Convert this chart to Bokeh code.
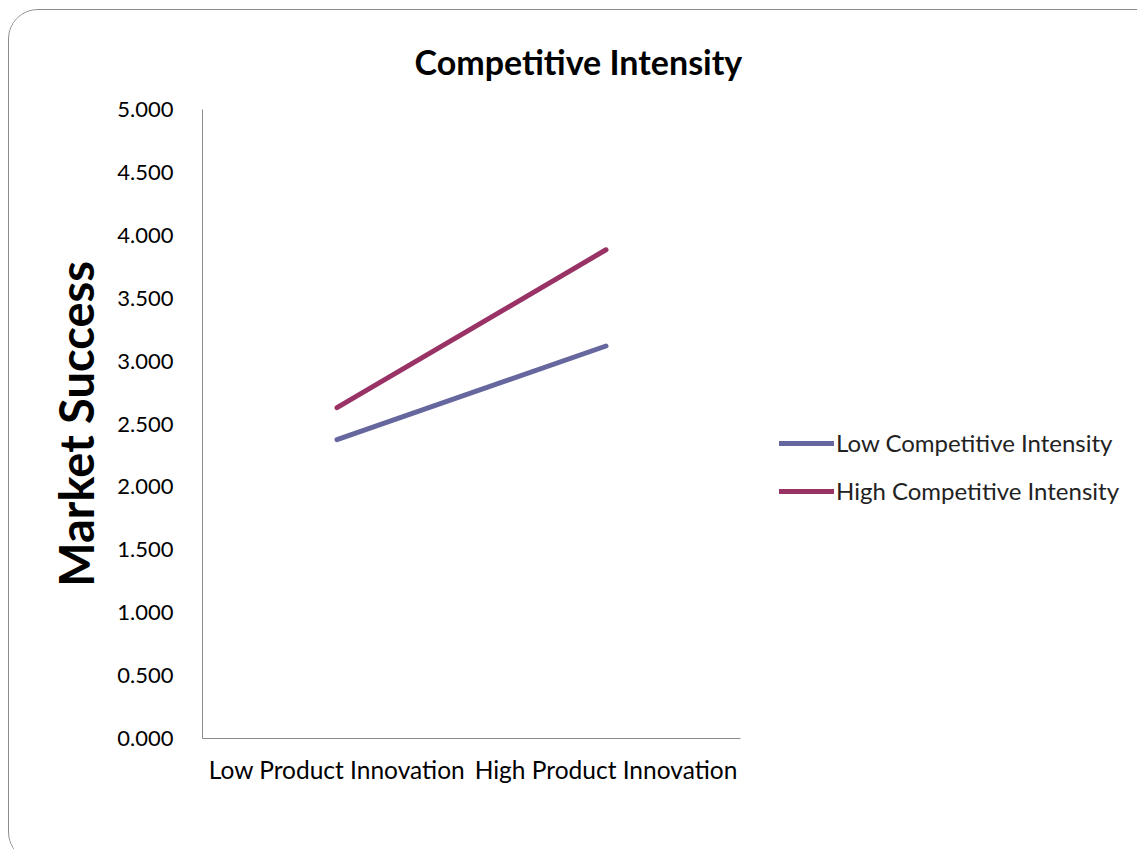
from bokeh.plotting import figure
from bokeh.models import Legend, LegendItem, NumeralTickFormatter, FixedTicker, Range1d, FactorRange
from bokeh.embed import file_html
from bokeh.resources import INLINE

categories = ["Low Product Innovation", "High Product Innovation"]
low_ci = [2.375, 3.12]
high_ci = [2.63, 3.885]
series_names = ["Low Competitive Intensity", "High Competitive Intensity"]
y_ticks = [0.0, 0.5, 1.0, 1.5, 2.0, 2.5, 3.0, 3.5, 4.0, 4.5, 5.0]

FONT = "Lato"
LOW_COLOR = "#67679F"
HIGH_COLOR = "#993366"
AXIS_COLOR = "#8C8C8C"

p = figure(
    x_range=FactorRange(*categories, range_padding=0),
    y_range=Range1d(0, 5),
    frame_width=538, frame_height=629,
    output_backend="svg", toolbar_location=None,
    min_border_left=193, min_border_top=99, min_border_bottom=123, min_border_right=421,
    title="Competitive Intensity",
)
p.styles = {"position": "absolute", "left": "8px", "top": "9px",
            "border": "1px solid #8C8C8C", "border-radius": "30px", "overflow": "hidden"}
p.outline_line_color = None
p.grid.visible = False
p.background_fill_color = "white"
p.border_fill_color = "white"

p.title.text_font = FONT
p.title.text_font_size = "34px"
p.title.text_font_style = "bold"
p.title.text_color = "black"
p.title.align = "left"
p.title.offset = 212
p.title.standoff = 55

r_low = p.line(categories, low_ci, line_color=LOW_COLOR, line_width=5, line_cap="round")
r_high = p.line(categories, high_ci, line_color=HIGH_COLOR, line_width=5, line_cap="round")

yax = p.yaxis[0]
yax.ticker = FixedTicker(ticks=y_ticks)
yax.formatter = NumeralTickFormatter(format="0.000")
yax.major_tick_line_color = None
yax.minor_tick_line_color = None
yax.axis_line_color = AXIS_COLOR
yax.major_label_text_font = FONT
yax.major_label_text_font_size = "22px"
yax.major_label_text_color = "black"
yax.major_label_standoff = 23
yax.axis_label = "Market Success"
yax.axis_label_text_font = FONT
yax.axis_label_text_font_size = "47px"
yax.axis_label_text_font_style = "bold"
yax.axis_label_text_color = "black"
yax.axis_label_standoff = 10

xax = p.xaxis[0]
xax.major_tick_line_color = None
xax.minor_tick_line_color = None
xax.axis_line_color = AXIS_COLOR
xax.major_label_text_font = FONT
xax.major_label_text_font_size = "24.5px"
xax.major_label_text_color = "black"
xax.major_label_standoff = 10

legend = Legend(items=[LegendItem(label=series_names[0], renderers=[r_low]),
                       LegendItem(label=series_names[1], renderers=[r_high])],
                location=(39, 233), border_line_color=None, background_fill_alpha=0,
                label_text_font=FONT, label_text_font_size="24px", label_text_color="#222222",
                glyph_width=55, glyph_height=20, label_height=20, spacing=19,
                label_standoff=2, padding=0, margin=0)
p.add_layout(legend, "right")

open("out.html", "w").write(file_html(p, INLINE))
